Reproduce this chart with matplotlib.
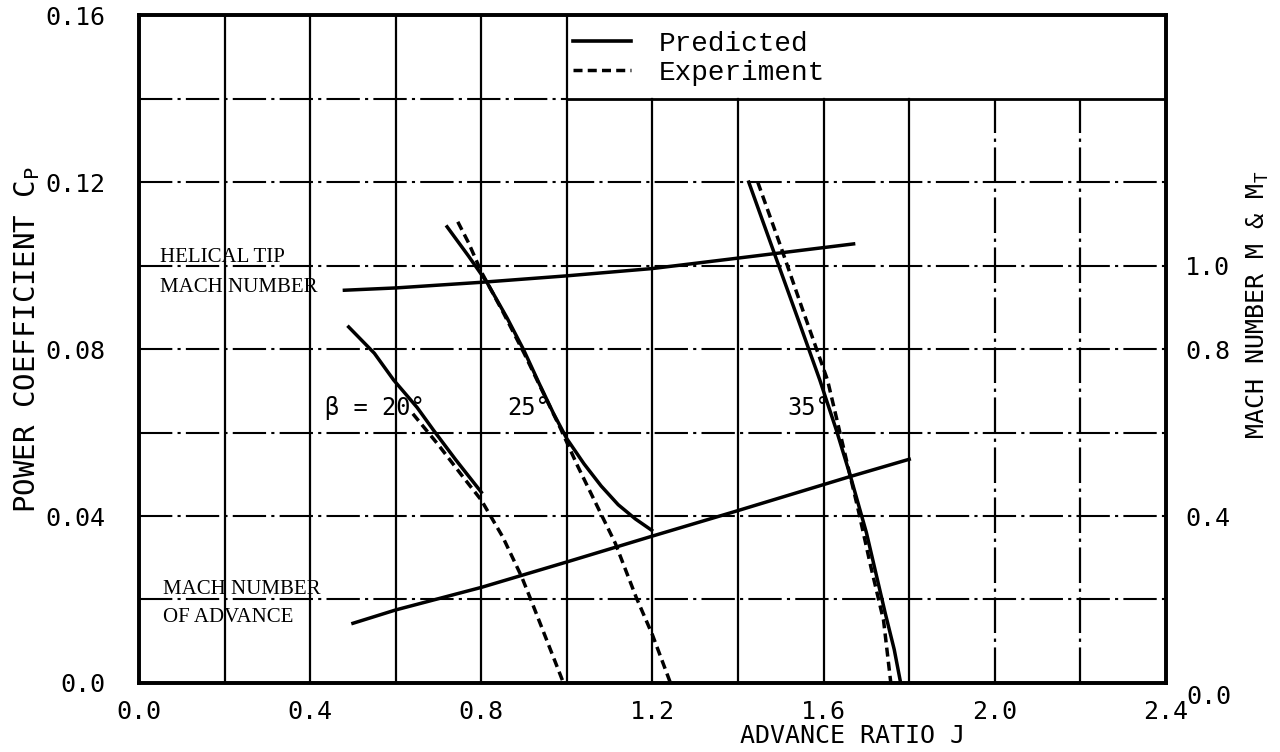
import matplotlib
matplotlib.use("Agg")
import matplotlib.pyplot as plt
from matplotlib.lines import Line2D

# power coefficient curves, blade angle 20, 25, 35 deg
j_pred20 = [0.49, 0.55, 0.595, 0.65, 0.688, 0.74, 0.80]
cp_pred20 = [0.0853, 0.0790, 0.0726, 0.0660, 0.0606, 0.0535, 0.0457]
j_exp20 = [0.64, 0.70, 0.76, 0.80, 0.85, 0.894, 0.916, 0.95, 0.992]
cp_exp20 = [0.0645, 0.0570, 0.0490, 0.0438, 0.0350, 0.0255, 0.0199, 0.0110, 0.0]

j_pred25 = [0.72, 0.77, 0.813, 0.86, 0.899, 0.935, 0.969, 1.00, 1.04, 1.08, 1.12, 1.16, 1.198]
cp_pred25 = [0.1093, 0.1023, 0.0960, 0.0875, 0.0798, 0.0718, 0.0645, 0.0585, 0.0525, 0.0472, 0.0427, 0.0393, 0.0366]
j_exp25 = [0.745, 0.77, 0.80, 0.85, 0.90, 0.94, 0.985, 1.025, 1.064, 1.113, 1.162, 1.20, 1.242]
cp_exp25 = [0.1105, 0.1055, 0.0985, 0.0890, 0.0790, 0.0705, 0.0610, 0.0520, 0.0438, 0.0335, 0.0205, 0.0115, 0.0]

j_pred35 = [1.425, 1.46, 1.50, 1.545, 1.591, 1.63, 1.663, 1.70, 1.744, 1.765, 1.78]
cp_pred35 = [0.120, 0.110, 0.0986, 0.0858, 0.0726, 0.0605, 0.0494, 0.0360, 0.0167, 0.0080, 0.0]
j_exp35 = [1.446, 1.50, 1.55, 1.609, 1.645, 1.681, 1.71, 1.74, 1.757]
cp_exp35 = [0.120, 0.1045, 0.0897, 0.0726, 0.0570, 0.0414, 0.0280, 0.0150, 0.0]

# mach numbers (right axis)
j_tip = [0.48, 0.60, 0.80, 1.00, 1.20, 1.40, 1.67]
m_tip = [0.941, 0.9465, 0.960, 0.9755, 0.993, 1.018, 1.052]
j_adv = [0.50, 0.60, 0.80, 1.00, 1.20, 1.39, 1.66, 1.80]
m_adv = [0.143, 0.175, 0.229, 0.290, 0.352, 0.410, 0.494, 0.536]

x_ticks = [0.0, 0.4, 0.8, 1.2, 1.6, 2.0, 2.4]
x_ticklabels = ["0.0", "0.4", "0.8", "1.2", "1.6", "2.0", "2.4"]
y_ticks = [0.0, 0.04, 0.08, 0.12, 0.16]
y_ticklabels = ["0.0", "0.04", "0.08", "0.12", "0.16"]
m_ticks = [0.4, 0.8, 1.0]
m_ticklabels = ["0.4", "0.8", "1.0"]

grid_x = [0.2, 0.4, 0.6, 0.8, 1.0, 1.2, 1.4, 1.6, 1.8, 2.0, 2.2]
grid_y = [0.02, 0.04, 0.06, 0.08, 0.10, 0.12, 0.14]

mono = "DejaVu Sans Mono"
dashdot = (0, (16, 2.5, 1.5, 2.5))
dashed = (0, (2.6, 1.5))

fig = plt.figure(figsize=(12.8, 7.52), dpi=100)
ax = fig.add_axes([0.1086, 0.0918, 0.8023, 0.888])
ax.set_xlim(0, 2.4)
ax.set_ylim(0, 0.16)

# grid: legend box occupies J 1.0..2.4, Cp 0.14..0.16
for gy in grid_y:
    if gy < 0.14:
        ax.axhline(gy, color="black", lw=1.5, ls=dashdot)
    else:
        ax.axhline(gy, xmin=0, xmax=1.0 / 2.4, color="black", lw=1.5, ls=dashdot)
        ax.axhline(gy, xmin=1.0 / 2.4, xmax=1, color="black", lw=2.0)
for gx in grid_x:
    top = 1.0 if gx <= 1.0 else 0.14 / 0.16
    style = "-" if gx < 1.9 else dashdot
    ax.axvline(gx, ymin=0, ymax=top, color="black", lw=1.6, ls=style)

# curves
ax.plot(j_pred20, cp_pred20, color="black", lw=2.5)
ax.plot(j_exp20, cp_exp20, color="black", lw=2.5, ls=dashed)
ax.plot(j_pred25, cp_pred25, color="black", lw=2.5)
ax.plot(j_exp25, cp_exp25, color="black", lw=2.5, ls=dashed)
ax.plot(j_pred35, cp_pred35, color="black", lw=2.5)
ax.plot(j_exp35, cp_exp35, color="black", lw=2.5, ls=dashed)

ax.set_xticks(x_ticks)
ax.set_xticklabels(x_ticklabels, family=mono, fontsize=18)
ax.set_yticks(y_ticks)
ax.set_yticklabels(y_ticklabels, family=mono, fontsize=18)
ax.tick_params(length=0)
ax.tick_params(axis="x", pad=12)
ax.tick_params(axis="y", pad=24)
for s in ax.spines.values():
    s.set_linewidth(2.6)

ax2 = ax.twinx()
ax2.set_ylim(0, 1.6)
ax2.plot(j_tip, m_tip, color="black", lw=2.5)
ax2.plot(j_adv, m_adv, color="black", lw=2.5)
ax2.set_yticks(m_ticks)
ax2.set_yticklabels(m_ticklabels, family=mono, fontsize=18)
ax2.tick_params(length=0, pad=14)
for s in ax2.spines.values():
    s.set_linewidth(2.6)
ax2.annotate("0.0", xy=(1, 0), xycoords=("axes fraction", "data"),
             xytext=(15, -10), textcoords="offset points",
             family=mono, fontsize=18, ha="left", va="center")

# legend inside the boxed area
handles = [Line2D([], [], color="black", lw=2.6),
           Line2D([], [], color="black", lw=2.5, ls=dashed)]
ax.legend(handles, ["Predicted", "Experiment"], loc="upper left",
          bbox_to_anchor=(0.4226, 0.976), frameon=False, borderpad=0,
          borderaxespad=0, prop={"family": "Liberation Mono", "size": 20},
          handlelength=2.1, handletextpad=1.0, labelspacing=0.1)

# annotations
serif = "Liberation Serif"
ax.text(0.05, 0.102, "HELICAL TIP", family=serif, fontsize=15, va="center")
ax.text(0.05, 0.0948, "MACH NUMBER", family=serif, fontsize=15, va="center")
ax.text(0.056, 0.0225, "MACH NUMBER", family=serif, fontsize=15, va="center")
ax.text(0.056, 0.0158, "OF ADVANCE", family=serif, fontsize=15, va="center")
ax.text(0.435, 0.066, "β = 20°", family=mono, fontsize=17, va="center")
ax.text(0.86, 0.066, "25°", family=mono, fontsize=17, va="center")
ax.text(1.515, 0.066, "35°", family=mono, fontsize=17, va="center")

ax.set_xlabel("ADVANCE RATIO J", family=mono, fontsize=18)
ax.xaxis.set_label_coords(0.695, -0.080)
ax.xaxis.label.set_va("center")
fig.text(0.021, 0.548, "POWER COEFFICIENT C$_\\mathregular{P}$", family=mono,
         fontsize=21, rotation=90, ha="center", va="center")
fig.text(0.983, 0.594, "MACH NUMBER M & M$_\\mathregular{T}$", family=mono,
         fontsize=18, rotation=90, ha="center", va="center")

fig.savefig("out.png", dpi=100, facecolor="white")
